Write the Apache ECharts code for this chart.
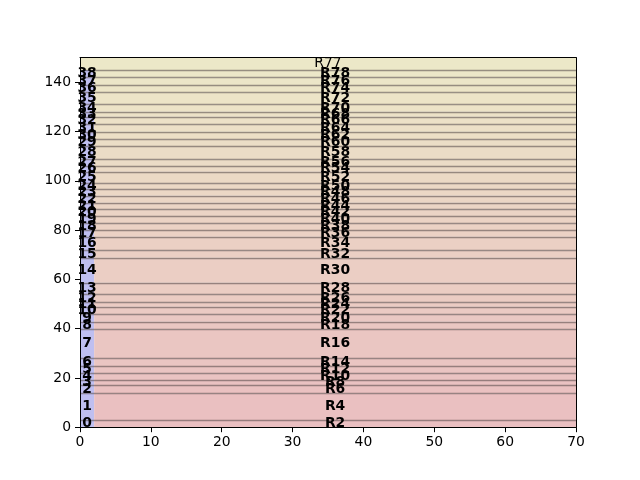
<!DOCTYPE html>
<html>
<head>
<meta charset="utf-8">
<script src="https://cdn.jsdelivr.net/npm/echarts@6/dist/echarts.min.js"></script>
<style>html,body{margin:0;padding:0;background:#fff;}#chart{width:640px;height:480px;}</style>
</head>
<body>
<div id="chart"></div>
<script>
// Band boundaries (y values), bottom to top
const yBounds = [0, 2.9, 13.8, 17.1, 19.2, 21.9, 24.8, 28.0, 39.7, 42.8, 45.8, 48.9, 50.7, 53.9, 58.6, 68.8,
  71.8, 77.3, 80.0, 82.8, 85.7, 88.4, 91.1, 94.0, 96.6, 99.0, 103.7, 106.0, 108.7, 114.1, 116.8, 119.9,
  122.9, 126.0, 128.0, 131.0, 135.9, 138.9, 142.0, 145.0, 150.0];
// Labels of the narrow left strip (one per band)
const stripLabels = ['0','1','2','3','4','5','6','7','8','9','10','11','12','13','14','15','16','17','18','19',
  '20','21','22','23','24','25','26','27','28','29','30','31','32','33','34','35','36','37','38'];
// Labels of the wide bands
const bandLabels = ['R2','R4','R6','R8','R10','R12','R14','R16','R18','R20','R22','R24','R26','R28','R30',
  'R32','R34','R36','R38','R40','R42','R44','R46','R48','R50','R52','R54','R56','R58','R60','R62','R64',
  'R66','R68','R70','R72','R74','R76','R78'];
const topBandLabel = 'R77';
const stripRange = [0, 2];
const bandRange = [2, 70];
const xTicks = [0, 10, 20, 30, 40, 50, 60, 70];
const yTicks = [0, 20, 40, 60, 80, 100, 120, 140];
const xMin = 0, xMax = 70, xStep = 10;
const yMin = 0, yMax = 150, yStep = 10;

const FONT = 'DejaVu Sans';
const bottomColor = [234, 191, 193];
const topColor = [236, 232, 200];
const stripColor = '#bfbff0';
const nBands = yBounds.length - 1;
function bandColor(i) {
  const t = i / (nBands - 1);
  const c = bottomColor.map((v, k) => Math.round(v + (topColor[k] - v) * t));
  return 'rgb(' + c.join(',') + ')';
}

const bandData = [];
for (let i = 0; i < nBands; i++) bandData.push([yBounds[i], yBounds[i + 1], i]);
const lineData = yBounds.slice(1, -1).map(v => [v]);

const chart = echarts.init(document.getElementById('chart'), null, {renderer: 'canvas'});
const labelStyle = {color: '#000', fontFamily: FONT, fontSize: 13.9};
const lineStyle = {color: '#000', width: 1};
chart.setOption({
  animation: false,
  grid: {left: 80, right: 64, top: 57.6, bottom: 52.8},
  xAxis: [
    {type: 'value', min: xMin, max: xMax, interval: xStep, position: 'bottom', z: 10,
      splitLine: {show: false}, axisLine: {show: true, onZero: false, lineStyle: lineStyle},
      axisTick: {show: true, inside: false, length: 5, lineStyle: lineStyle, customValues: xTicks},
      axisLabel: Object.assign({margin: 8, customValues: xTicks}, labelStyle)},
    {type: 'value', min: xMin, max: xMax, interval: xStep, position: 'top', z: 10,
      splitLine: {show: false}, axisLine: {show: true, onZero: false, lineStyle: lineStyle},
      axisTick: {show: false}, axisLabel: {show: false}}
  ],
  yAxis: [
    {type: 'value', min: yMin, max: yMax, interval: yStep, position: 'left', z: 10,
      splitLine: {show: false}, axisLine: {show: true, onZero: false, lineStyle: lineStyle},
      axisTick: {show: true, inside: false, length: 5, lineStyle: lineStyle, customValues: yTicks},
      axisLabel: Object.assign({margin: 9, customValues: yTicks}, labelStyle)},
    {type: 'value', min: yMin, max: yMax, interval: yStep, position: 'right', z: 10,
      splitLine: {show: false}, axisLine: {show: true, onZero: false, lineStyle: lineStyle},
      axisTick: {show: false}, axisLabel: {show: false}}
  ],
  series: [
    {
      type: 'custom', z: 1, silent: true, data: bandData,
      renderItem: function (params, api) {
        const y0 = api.value(0), y1 = api.value(1), i = api.value(2);
        const children = [];
        if (i < stripLabels.length) {
          const a = api.coord([stripRange[0], y0]), b = api.coord([stripRange[1], y1]);
          const c = api.coord([bandRange[1], y1]);
          children.push({type: 'rect', shape: {x: a[0], y: b[1], width: b[0] - a[0], height: a[1] - b[1]},
            style: {fill: stripColor}});
          children.push({type: 'rect', shape: {x: b[0], y: b[1], width: c[0] - b[0], height: a[1] - b[1]},
            style: {fill: bandColor(i)}});
        } else {
          const a = api.coord([xMin, y0]), c = api.coord([xMax, y1]);
          children.push({type: 'rect', shape: {x: a[0], y: c[1], width: c[0] - a[0], height: a[1] - c[1]},
            style: {fill: bandColor(i)}});
        }
        return {type: 'group', children: children};
      }
    },
    {
      type: 'custom', z: 2, silent: true, data: lineData,
      renderItem: function (params, api) {
        const a = api.coord([xMin, api.value(0)]), b = api.coord([xMax, api.value(0)]);
        const y = Math.round(a[1]) + 0.5;
        return {type: 'line', shape: {x1: a[0], y1: y, x2: b[0], y2: y},
          style: {stroke: 'rgba(80,70,70,0.55)', lineWidth: 1.3}};
      }
    },
    {
      type: 'custom', z: 3, silent: true, data: bandData,
      renderItem: function (params, api) {
        const y0 = api.value(0), y1 = api.value(1), i = api.value(2);
        const mid = (y0 + y1) / 2;
        const children = [];
        if (i < stripLabels.length) {
          const p = api.coord([(stripRange[0] + stripRange[1]) / 2, mid]);
          const q = api.coord([(bandRange[0] + bandRange[1]) / 2, mid]);
          children.push({type: 'text', style: {x: p[0], y: p[1], text: stripLabels[i], fill: '#000',
            font: 'bold 13.9px "' + FONT + '"', textAlign: 'center', textVerticalAlign: 'middle'}});
          children.push({type: 'text', style: {x: q[0], y: q[1], text: bandLabels[i], fill: '#000',
            font: 'bold 13.9px "' + FONT + '"', textAlign: 'center', textVerticalAlign: 'middle'}});
        } else {
          const q = api.coord([(xMin + xMax) / 2, mid]);
          children.push({type: 'text', style: {x: q[0], y: q[1], text: topBandLabel, fill: '#000',
            font: '13.9px "' + FONT + '"', textAlign: 'center', textVerticalAlign: 'middle'}});
        }
        return {type: 'group', children: children};
      }
    }
  ]
});
</script>
</body>
</html>
